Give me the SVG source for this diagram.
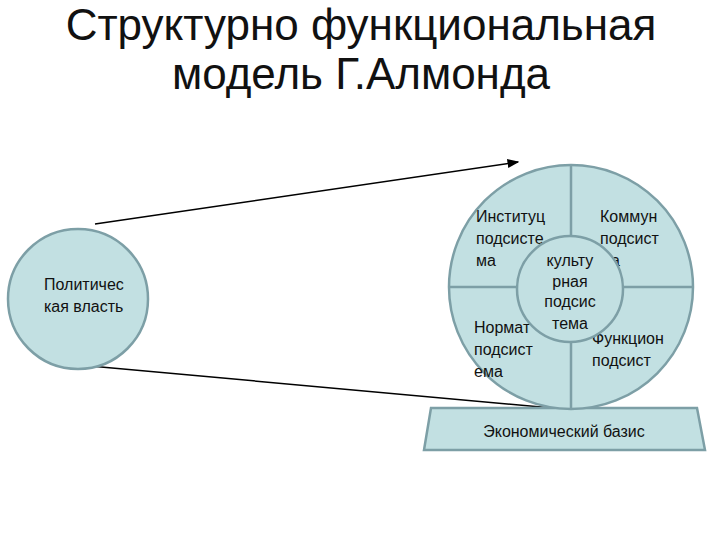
<svg xmlns="http://www.w3.org/2000/svg" width="720" height="540" viewBox="0 0 720 540">
<style>
.s{fill:#c2e0e2;stroke:#7d9fa6;stroke-width:2.5}
.l{fill:none;stroke:#7d9fa6;stroke-width:2.5}
.t{font-family:"Liberation Sans",Arial,sans-serif;font-size:16px;fill:#111}
.h{font-family:"Liberation Sans",Arial,sans-serif;font-size:44px;fill:#111;text-anchor:middle}
</style>
<defs><marker id="a" markerWidth="8" markerHeight="6" refX="7" refY="3" orient="auto"><path d="M0,0L8,3L0,6z" fill="#000"/></marker></defs>
<rect width="720" height="540" fill="#fff"/>
<text class="h" x="361" y="40">Структурно функциональная</text>
<text class="h" x="361" y="89">модель Г.Алмонда</text>
<g id="connectors" stroke="#000" stroke-width="1.5">
<line x1="95" y1="224" x2="518" y2="162" marker-end="url(#a)"/>
<line x1="90" y1="366" x2="552" y2="408"/>
</g>
<g id="power"><circle class="s" cx="78" cy="299" r="70"/>
<text class="t" x="44" y="290">Политичес</text><text class="t" x="44" y="312">кая власть</text></g>
<g id="basis"><path class="s" d="M431,408L697,408L705,450L424,450Z"/>
<text class="t" x="564" y="437" text-anchor="middle">Экономический базис</text></g>
<g id="wheel"><circle class="s" cx="571" cy="287" r="122"/>
<line class="l" x1="571" y1="165" x2="571" y2="409"/>
<line class="l" x1="449" y1="287" x2="693" y2="287"/></g>
<g id="inst"><text class="t" x="476" y="222">Институц</text><text class="t" x="476" y="244">подсисте</text><text class="t" x="476" y="266">ма</text></g>
<g id="komm"><text class="t" x="600" y="222">Коммун</text><text class="t" x="600" y="244">подсист</text><text class="t" x="600" y="266">ма</text></g>
<g id="norm"><text class="t" x="474" y="333">Нормат</text><text class="t" x="474" y="355">подсист</text><text class="t" x="474" y="377">ема</text></g>
<g id="func"><text class="t" x="592" y="344">Функцион</text><text class="t" x="592" y="366">подсист</text></g>
<g id="cult"><circle class="s" cx="570" cy="289" r="53"/>
<text class="t" x="570" y="266" text-anchor="middle">культу</text><text class="t" x="570" y="287" text-anchor="middle">рная</text><text class="t" x="570" y="307" text-anchor="middle">подсис</text><text class="t" x="570" y="329" text-anchor="middle">тема</text></g>
</svg>
